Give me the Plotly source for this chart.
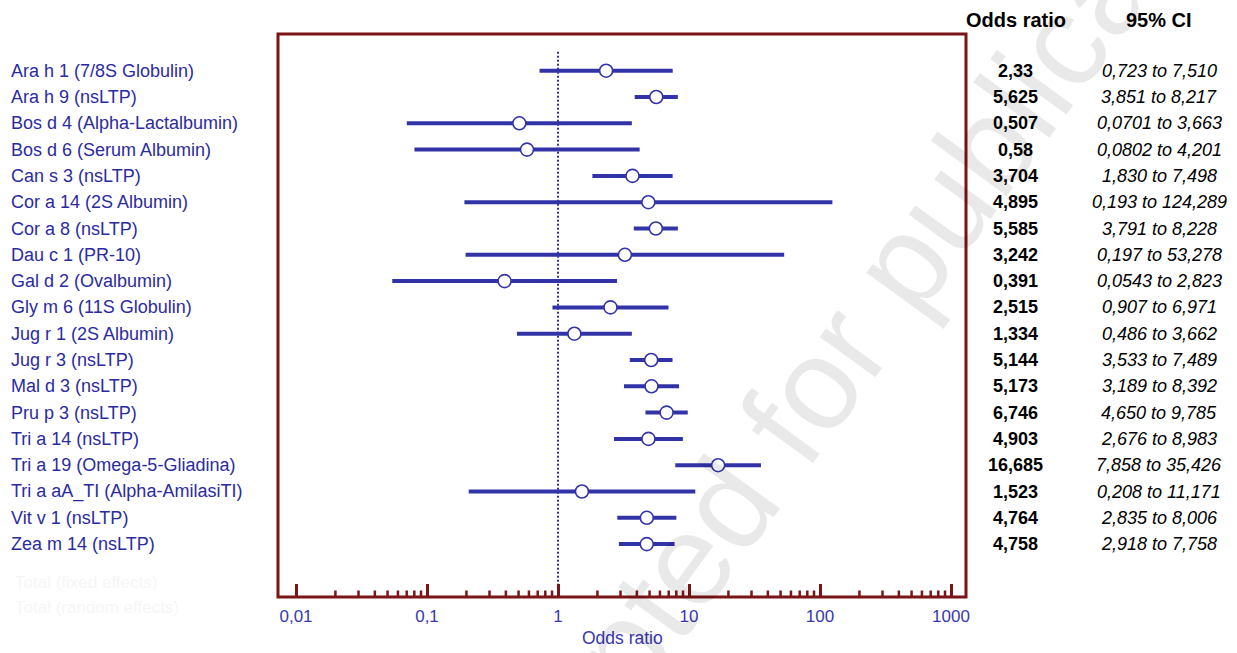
import math
import plotly.graph_objects as go

# Allergen components and their odds ratios with 95% confidence intervals
components = [
    "Ara h 1 (7/8S Globulin)", "Ara h 9 (nsLTP)", "Bos d 4 (Alpha-Lactalbumin)",
    "Bos d 6 (Serum Albumin)", "Can s 3 (nsLTP)", "Cor a 14 (2S Albumin)",
    "Cor a 8 (nsLTP)", "Dau c 1 (PR-10)", "Gal d 2 (Ovalbumin)",
    "Gly m 6 (11S Globulin)", "Jug r 1 (2S Albumin)", "Jug r 3 (nsLTP)",
    "Mal d 3 (nsLTP)", "Pru p 3 (nsLTP)", "Tri a 14 (nsLTP)",
    "Tri a 19 (Omega-5-Gliadina)", "Tri a aA_TI (Alpha-AmilasiTI)",
    "Vit v 1 (nsLTP)", "Zea m 14 (nsLTP)",
]
odds_ratio = [2.33, 5.625, 0.507, 0.58, 3.704, 4.895, 5.585, 3.242, 0.391, 2.515,
              1.334, 5.144, 5.173, 6.746, 4.903, 16.685, 1.523, 4.764, 4.758]
ci_low = [0.723, 3.851, 0.0701, 0.0802, 1.830, 0.193, 3.791, 0.197, 0.0543, 0.907,
          0.486, 3.533, 3.189, 4.650, 2.676, 7.858, 0.208, 2.835, 2.918]
ci_high = [7.510, 8.217, 3.663, 4.201, 7.498, 124.289, 8.228, 53.278, 2.823, 6.971,
           3.662, 7.489, 8.392, 9.785, 8.983, 35.426, 11.171, 8.006, 7.758]

tick_values = [0.01, 0.1, 1, 10, 100, 1000]
tick_labels = ["0,01", "0,1", "1", "10", "100", "1000"]

BLUE = "#3333A8"
TEXT_BLUE = "#2B2BA0"
FRAME = "#7A1416"
FONT = "Arial, Liberation Sans, sans-serif"

W, H = 1237, 653
L, R, T, B = 278, 966, 34, 597  # plot area in pixels
PW, PH = R - L, B - T


def fmt_or(v):
    s = f"{v:.3f}".rstrip("0").rstrip(".")
    return s.replace(".", ",")


def fmt_ci(v):
    s = f"{v:.4f}" if v < 0.1 else f"{v:.3f}"
    return s.replace(".", ",")


rows = list(range(len(components)))

# CI segments as one line trace separated by gaps
seg_x, seg_y = [], []
for i, (lo, hi) in enumerate(zip(ci_low, ci_high)):
    seg_x += [lo, hi, None]
    seg_y += [i, i, None]

fig = go.Figure()
fig.add_trace(go.Scatter(
    x=seg_x, y=seg_y, mode="lines",
    line=dict(color=BLUE, width=4), hoverinfo="skip", showlegend=False,
))
fig.add_trace(go.Scatter(
    x=odds_ratio, y=rows, mode="markers",
    marker=dict(symbol="circle", size=13, color="white",
                line=dict(color=BLUE, width=1.6)),
    showlegend=False,
))

# vertical reference line at OR = 1
fig.add_shape(type="line", xref="x", yref="y", x0=1, x1=1, y0=-0.72, y1=20.0,
              line=dict(color=BLUE, width=2, dash="2px,2px"), layer="below")

# minor ticks along the bottom axis
for dec in range(-2, 3):
    for m in range(2, 10):
        xv = m * 10 ** dec
        fig.add_shape(type="line", xref="x", yref="paper", x0=xv, x1=xv,
                      y0=0, y1=6.5 / PH, line=dict(color=FRAME, width=2.5))

# frame around the plot area
fig.add_shape(type="rect", xref="paper", yref="paper", x0=0, x1=1, y0=0, y1=1,
              line=dict(color=FRAME, width=3), layer="above")

annotations = []
# component labels on the left
for i, name in enumerate(components):
    annotations.append(dict(
        text=name, xref="paper", yref="y", x=(9 - L) / PW, y=i,
        xanchor="left", yanchor="middle", showarrow=False,
        font=dict(family=FONT, size=18, color=TEXT_BLUE),
    ))

# table on the right
col_or = (1015.5 - L) / PW
col_ci = (1159 - L) / PW
head_y = (B - 20) / PH
annotations.append(dict(text="<b>Odds ratio</b>", xref="paper", yref="paper",
                        x=col_or, y=head_y, xanchor="center", yanchor="middle",
                        showarrow=False, font=dict(family=FONT, size=20, color="black")))
annotations.append(dict(text="<b>95% CI</b>", xref="paper", yref="paper",
                        x=col_ci, y=head_y, xanchor="center", yanchor="middle",
                        showarrow=False, font=dict(family=FONT, size=20, color="black")))
for i in rows:
    annotations.append(dict(
        text=f"<b>{fmt_or(odds_ratio[i])}</b>", xref="paper", yref="y",
        x=col_or, y=i, xanchor="center", yanchor="middle", showarrow=False,
        font=dict(family=FONT, size=18, color="black"),
    ))
    annotations.append(dict(
        text=f"<i>{fmt_ci(ci_low[i])} to {fmt_ci(ci_high[i])}</i>", xref="paper",
        yref="y", x=col_ci, y=i, xanchor="center", yanchor="middle",
        showarrow=False, font=dict(family=FONT, size=18, color="black"),
    ))

# axis title
annotations.append(dict(text="Odds ratio", xref="paper", yref="paper",
                        x=0.5, y=-(638 - B) / PH, xanchor="center", yanchor="middle",
                        showarrow=False, font=dict(family=FONT, size=17.5, color="#3838B0")))

# faint summary labels
for txt, py in [("Total (fixed effects)", 582), ("Total (random effects)", 607)]:
    annotations.append(dict(text=txt, xref="paper", yref="paper",
                            x=(13 - L) / PW, y=(B - py) / PH, xanchor="left",
                            yanchor="middle", showarrow=False,
                            font=dict(family=FONT, size=17, color="#F6F6F8")))

# diagonal watermark
annotations.append(dict(text="Accepted for publication", xref="paper", yref="paper",
                        x=(838 - L) / PW, y=(B - 352) / PH, xanchor="center",
                        yanchor="middle", textangle=-54, showarrow=False,
                        font=dict(family=FONT, size=130, color="rgba(0,0,0,0.085)")))

fig.update_layout(
    width=W, height=H,
    margin=dict(l=L, r=W - R, t=T, b=H - B, pad=0),
    paper_bgcolor="white", plot_bgcolor="white",
    annotations=annotations,
    xaxis=dict(
        type="log", range=[-2 - 18 / 131, 3 + 15 / 131],
        tickvals=tick_values, ticktext=tick_labels,
        ticks="inside", ticklen=13, tickwidth=3, tickcolor=FRAME,
        tickfont=dict(family=FONT, size=17, color="#3838B0"),
        showgrid=False, zeroline=False, showline=False, ticklabelstandoff=7,
    ),
    yaxis=dict(
        range=[(B - 70.7) / 26.3, (T - 70.7) / 26.3],
        showticklabels=False, ticks="", showgrid=False, zeroline=False, showline=False,
    ),
)

fig.write_html("out.html")
